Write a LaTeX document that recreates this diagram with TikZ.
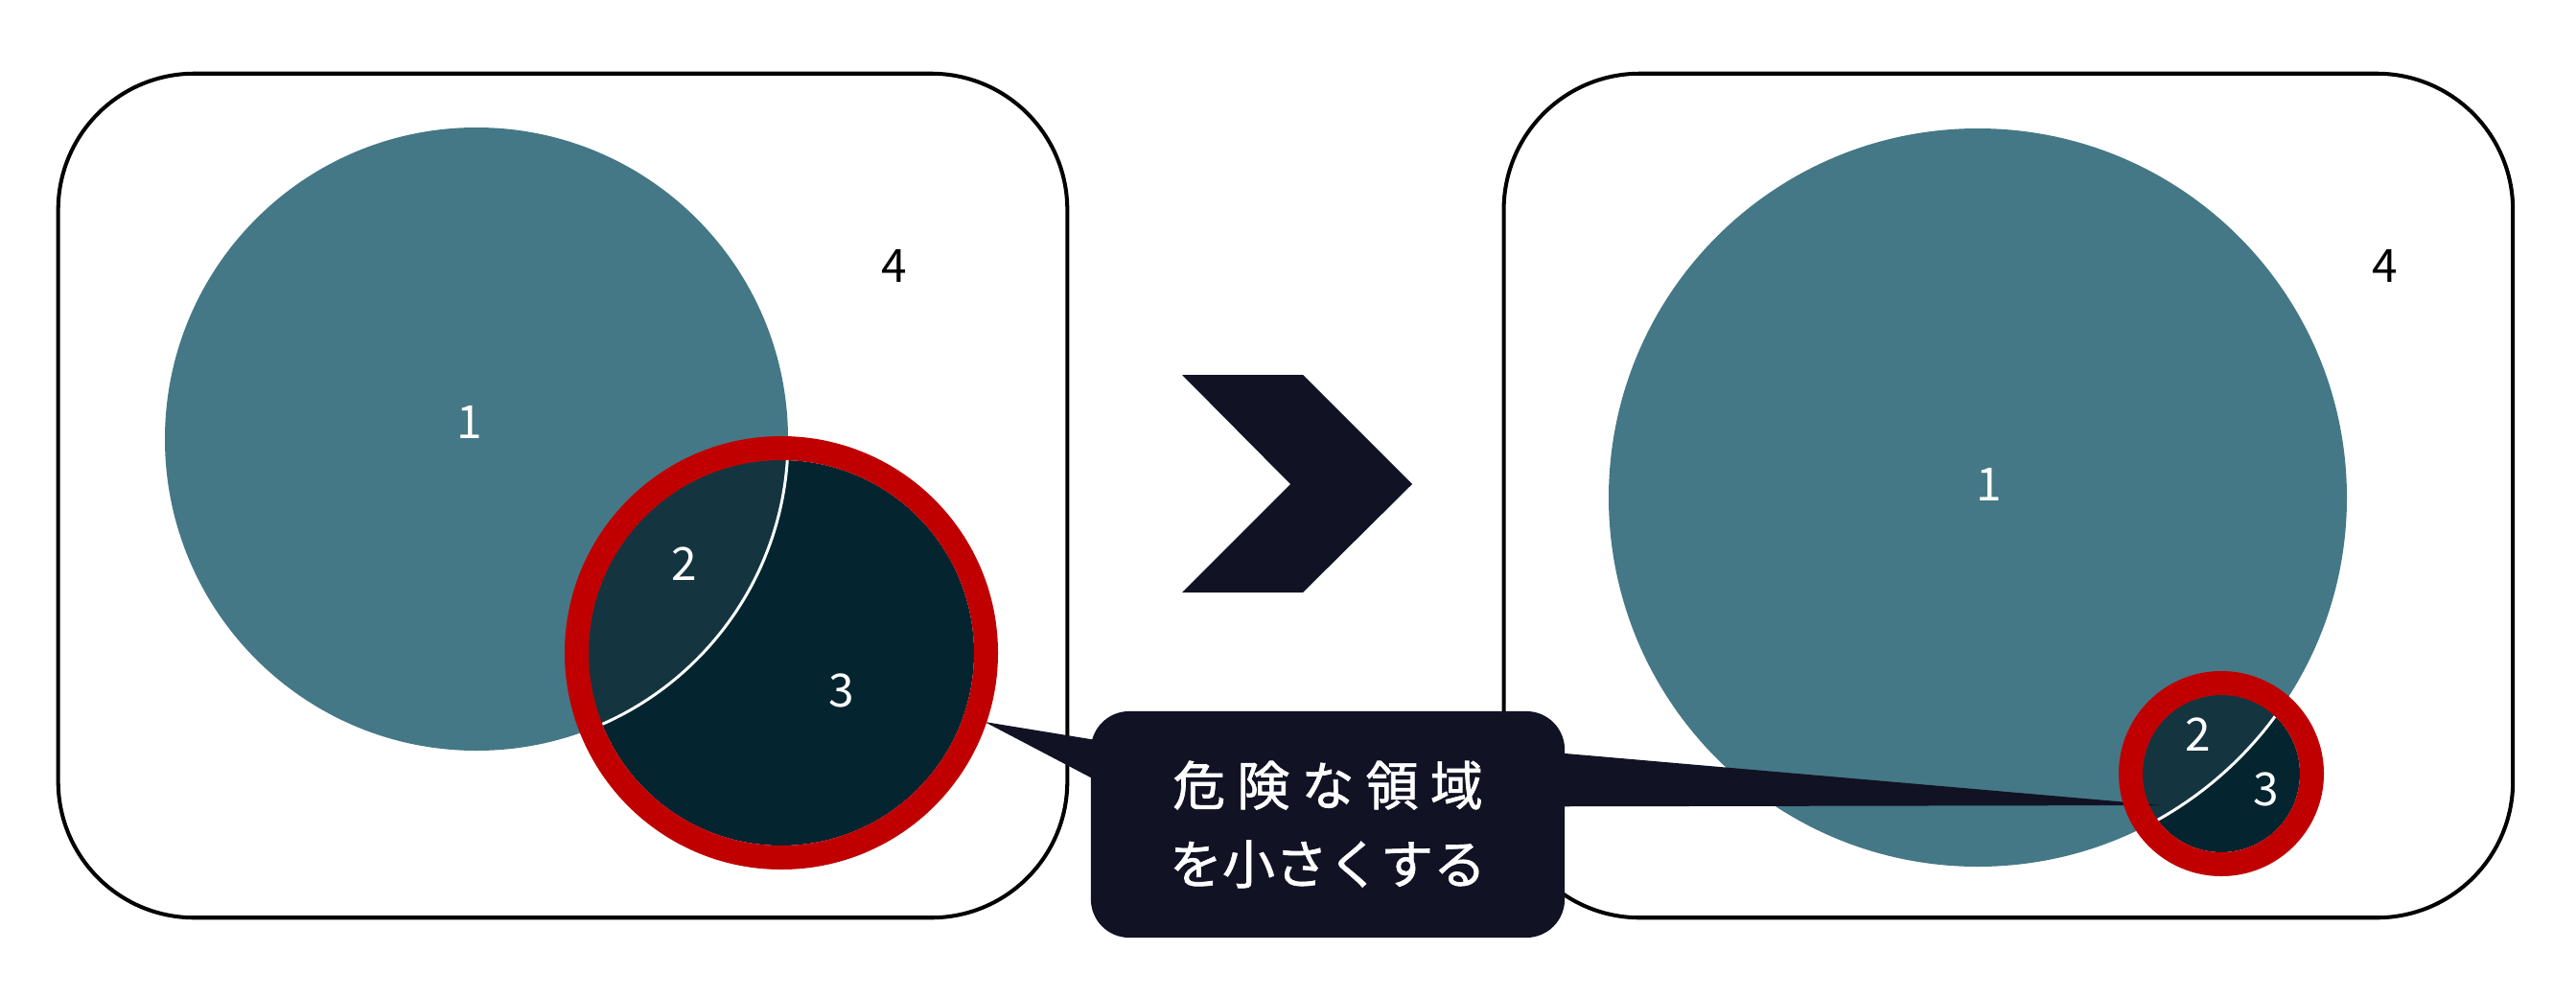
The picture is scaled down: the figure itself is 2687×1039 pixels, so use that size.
\documentclass[tikz,border=0pt]{standalone}
\usepackage{fontspec}
\setmainfont{Noto Sans CJK JP}
\usetikzlibrary{positioning}

\definecolor{bigteal}{RGB}{68,120,134}
\definecolor{overlapteal}{RGB}{20,53,64}
\definecolor{deepteal}{RGB}{4,37,47}
\definecolor{alertred}{RGB}{192,0,0}
\definecolor{inkblue}{RGB}{17,18,36}

\begin{document}
\begin{tikzpicture}[
    x=0.01cm, y=-0.01cm,
    panel/.style={draw=black, line width=1.15pt, rounded corners=1.42cm, minimum width=10.52cm, minimum height=8.8cm, inner sep=0pt},
    region/.style={font=\fontsize{13.6}{16}\selectfont, text=white, inner sep=0pt},
    outside/.style={region, text=black},
    ring/.style={draw=alertred, line width=0.25cm},
    edgeline/.style={draw=white, line width=0.85pt},
    callout/.style={fill=inkblue, rounded corners=0.4cm, minimum width=4.94cm, minimum height=2.36cm, text=white, align=center, font=\fontsize{15.65}{23.3}\selectfont\addfontfeature{FakeBold=1.2}}
]
   \useasboundingbox (0,0) rectangle (2687,1039);

   % Panels
   \node[panel] (before) at (587,517) {};
   \node[panel, on grid, right=15.07cm of before] (after) {};

   % Circle centres
   \coordinate (bigA) at (497,458);
   \coordinate (ringA) at (815,681);
   \coordinate (bigB) at (2063,519);
   \coordinate (ringB) at (2317,807);

   % Left: large danger area
   \fill[bigteal] (bigA) circle (325);
   \fill[deepteal] (ringA) circle (201);
   \begin{scope}
     \clip (ringA) circle (201);
     \fill[overlapteal] (bigA) circle (325);
     \draw[edgeline] (bigA) circle (325);
   \end{scope}

   % Right: small danger area
   \fill[bigteal] (bigB) circle (385);
   \fill[deepteal] (ringB) circle (82);
   \begin{scope}
     \clip (ringB) circle (82);
     \fill[overlapteal] (bigB) circle (385);
     \draw[edgeline] (bigB) circle (385);
   \end{scope}

   % Region numbers
   \node[region]  (oneA)   at (490,440) {1};
   \node[outside] (fourA)  at (933,277) {4};
   \node[region]  (twoA)   at (714,588) {2};
   \node[region]  (threeA) at (878,720) {3};
   \node[region]  (oneB)   at (2075,505) {1};
   \node[outside] (fourB)  at (2488,277) {4};
   \node[region]  (twoB)   at (2293,766) {2};
   \node[region]  (threeB) at (2364,823) {3};

   % Chevron between the panels
   \fill[inkblue] (1233,391) -- (1359,391) -- (1473,505) -- (1359,618) -- (1233,618) -- (1346,505) -- cycle;

   % Callout
   \coordinate (tipA) at (1027,753);
   \coordinate (tipB) at (2255,840);
   \node[callout] (note) at (1385,860) {{\addfontfeature{LetterSpace=22}危険な領域}\\を小さくする};
   \fill[inkblue] ([xshift=0.2cm, yshift=-0.33cm]note.north west) -- (tipA) -- ([xshift=0.2cm, yshift=-0.80cm]note.north west) -- cycle;
   \fill[inkblue] ([xshift=-0.2cm, yshift=-0.43cm]note.north east) -- (tipB) -- ([xshift=-0.2cm, yshift=-1.00cm]note.north east) -- cycle;

   % Red rings
   \draw[ring] (ringA) circle (213.5);
   \draw[ring] (ringB) circle (94.5);

\end{tikzpicture}
\end{document}
